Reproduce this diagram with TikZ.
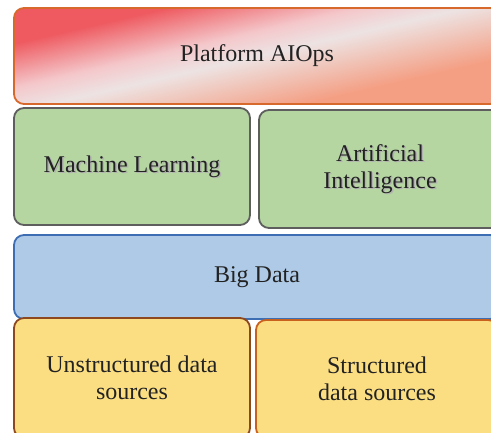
\documentclass[tikz,border=0pt]{standalone}
\usepackage{fontspec}
\setmainfont{Liberation Serif}
\usepackage{tikz}
\usetikzlibrary{positioning,shadings}

\definecolor{aiopsline}{HTML}{D8692C}
\definecolor{aiopsred}{HTML}{EE5A60}
\definecolor{aiopspink}{HTML}{F4C8CB}
\definecolor{aiopsmid}{HTML}{EDE3E3}
\definecolor{aiopssalmon}{HTML}{F49F84}
\definecolor{mlgreen}{HTML}{B5D6A1}
\definecolor{mlline}{HTML}{5E5E5E}
\definecolor{bdblue}{HTML}{AECAE7}
\definecolor{bdline}{HTML}{3D6DB2}
\definecolor{srcyellow}{HTML}{FBDD82}
\definecolor{srcbrown}{HTML}{8E4820}
\definecolor{srcorange}{HTML}{C9611E}
\definecolor{txt}{HTML}{222222}

\pgfdeclareverticalshading{aiopsshade}{100bp}{color(0bp)=(aiopssalmon); color(33bp)=(aiopssalmon);
  color(50bp)=(aiopsmid); color(57bp)=(aiopspink); color(70bp)=(aiopsred); color(100bp)=(aiopsred)}

\begin{document}
\begin{tikzpicture}[x=1pt, y=-1pt, line width=1.8pt,
  layer/.style={draw, rounded corners=10pt, align=center, text=txt,
    font=\fontsize{24}{27}\selectfont, inner sep=0pt},
  shadowtxt/.style={text=black!30, font=\fontsize{24}{27}\selectfont, align=center}]
  \useasboundingbox (0,0) rectangle (491,432);
  \clip (0,0) rectangle (491,432);

  % top layer
  \node[layer, draw=aiopsline, minimum width=486pt, minimum height=96pt,
    shading=aiopsshade, shading angle=13] (aiops) at (257,56) {Platform AIOps};

  % middle layer
  \node[layer, draw=mlline, fill=mlgreen, minimum width=236pt, minimum height=117pt] (ml) at (132,166.5) {};
  \node[layer, draw=mlline, fill=mlgreen, minimum width=242pt, minimum height=118pt] (ai) at (380,169) {};
  \node[shadowtxt] at ([shift={(1.5,1.5)}]ml.center) {Machine Learning};
  \node[layer, draw=none] (mltext) at (ml.center) {Machine Learning};
  \node[shadowtxt] at ([shift={(1.5,1.5)}]ai.center) {Artificial\\Intelligence};
  \node[layer, draw=none] (aitext) at (ai.center) {Artificial\\Intelligence};

  % big data
  \node[layer, draw=bdline, fill=bdblue, minimum width=486pt, minimum height=84pt] (bd) at (257,277) {Big Data};

  % sources
  \node[layer, draw=srcbrown, fill=srcyellow, minimum width=236pt, minimum height=120pt] (unstr) at (132,378) {Unstructured data\\sources};
  \node[layer, draw=srcorange, fill=srcyellow, minimum width=242pt, minimum height=118pt] (str) at (377,379) {Structured\\data sources};
\end{tikzpicture}
\end{document}
